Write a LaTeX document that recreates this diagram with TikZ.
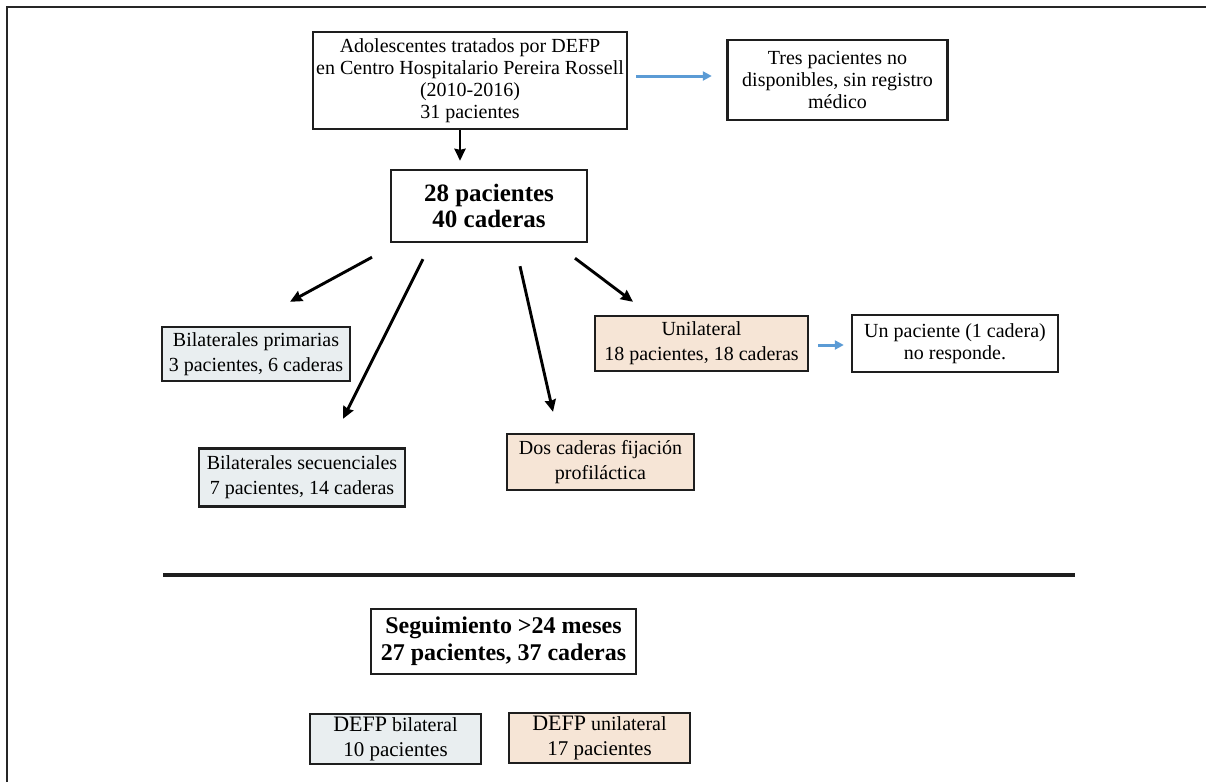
\documentclass[tikz,border=0pt]{standalone}
\usepackage{fontspec}
\setmainfont{Liberation Serif}
\usetikzlibrary{arrows.meta,calc}
\definecolor{bluegray}{HTML}{E9EEF0}
\definecolor{peachfill}{HTML}{F6E5D6}
\definecolor{arrblue}{HTML}{5B9BD5}
\definecolor{edge}{HTML}{1E1E1E}
\begin{document}
\begin{tikzpicture}[x=1pt,y=-1pt,
  box/.style={draw=edge,line width=2.4pt,align=center,inner sep=0pt,
    font=\fontsize{20}{25}\selectfont},
  tight/.style={font=\fontsize{20}{22}\selectfont},
  boldbox/.style={font=\fontsize{25}{26}\selectfont\bfseries},
  bgfill/.style={fill=bluegray},
  pfill/.style={fill=peachfill},
  blk/.style={line width=2.9pt,black,-{Stealth[length=12pt,width=11pt,inset=1pt]}},
  blu/.style={line width=3pt,arrblue,-{Triangle[length=9pt,width=9pt]}},
  rule/.style={line width=3.8pt,edge},
  frame/.style={line width=2pt,black!85}]
\useasboundingbox (0,0) rectangle (1206,782);
\draw[frame] (7,782) -- (7,7) -- (1206,7);

\node[box,tight,minimum width=314pt,minimum height=97pt] (A) at (470,80.5)
  {Adolescentes tratados por DEFP\\en Centro Hospitalario Pereira Rossell\\(2010-2016)\\31 pacientes};
\node[box,tight,minimum width=220pt,minimum height=80pt] (C) at (837.5,80)
  {Tres pacientes no\\disponibles, sin registro\\médico};
\node[box,boldbox,minimum width=196pt,minimum height=72pt] (B) at (489,206)
  {28 pacientes\\40 caderas};
\node[box,bgfill,minimum width=188pt,minimum height=54pt] (D) at (256,354)
  {Bilaterales primarias\\3 pacientes, 6 caderas};
\node[box,bgfill,minimum width=206pt,minimum height=58pt] (E) at (302,477.5)
  {Bilaterales secuenciales\\7 pacientes, 14 caderas};
\node[box,pfill,minimum width=187pt,minimum height=56pt] (F) at (600.5,462)
  {Dos caderas fijación\\profiláctica};
\node[box,pfill,minimum width=213pt,minimum height=55pt] (G) at (701.5,343.5)
  {Unilateral\\18 pacientes, 18 caderas};
\node[box,tight,minimum width=206pt,minimum height=57pt] (H) at (955,343.5)
  {Un paciente (1 cadera)\\no responde.};
\node[box,font=\fontsize{24}{27}\selectfont\bfseries,minimum width=265pt,minimum height=65pt] (I) at (503.5,641.5)
  {Seguimiento >24 meses\\27 pacientes, 37 caderas};
\node[box,bgfill,font=\fontsize{20}{25}\selectfont,minimum width=171pt,minimum height=50pt] (J) at (395.5,739)
  {{\fontsize{22}{25}\selectfont DEFP} bilateral\\{\fontsize{21}{25}\selectfont 10 pacientes}};
\node[box,pfill,font=\fontsize{20}{25}\selectfont,minimum width=181pt,minimum height=50pt] (K) at (599.5,738)
  {{\fontsize{22}{25}\selectfont DEFP} unilateral\\{\fontsize{21}{25}\selectfont 17 pacientes}};

% connectors
\draw[blk] ($(A.south)+(-10,0)$) -- ($(B.north)+(-29,-8)$);
\draw[blu] ($(A.east)+(8,-4.5)$) -- ($(C.west)+(-14.5,-4)$);
\draw[blk] ($(B.south)+(-117,14)$) -- ($(D.north)+(34,-24)$);
\draw[blk] ($(B.south)+(-66,16)$) -- ($(E.north)+(41,-28.5)$);
\draw[blk] ($(B.south)+(31,23)$) -- ($(F.north)+(-47.5,-21)$);
\draw[blk] ($(B.south)+(86,15)$) -- ($(G.north)+(-68.5,-13)$);
\draw[blu] ($(G.east)+(9,1.5)$) -- ($(H.west)+(-7,1.5)$);

% separator
\coordinate (r1) at (163,575);
\coordinate (r2) at (1075,575);
\draw[rule] (r1) -- (r2);
\end{tikzpicture}
\end{document}
